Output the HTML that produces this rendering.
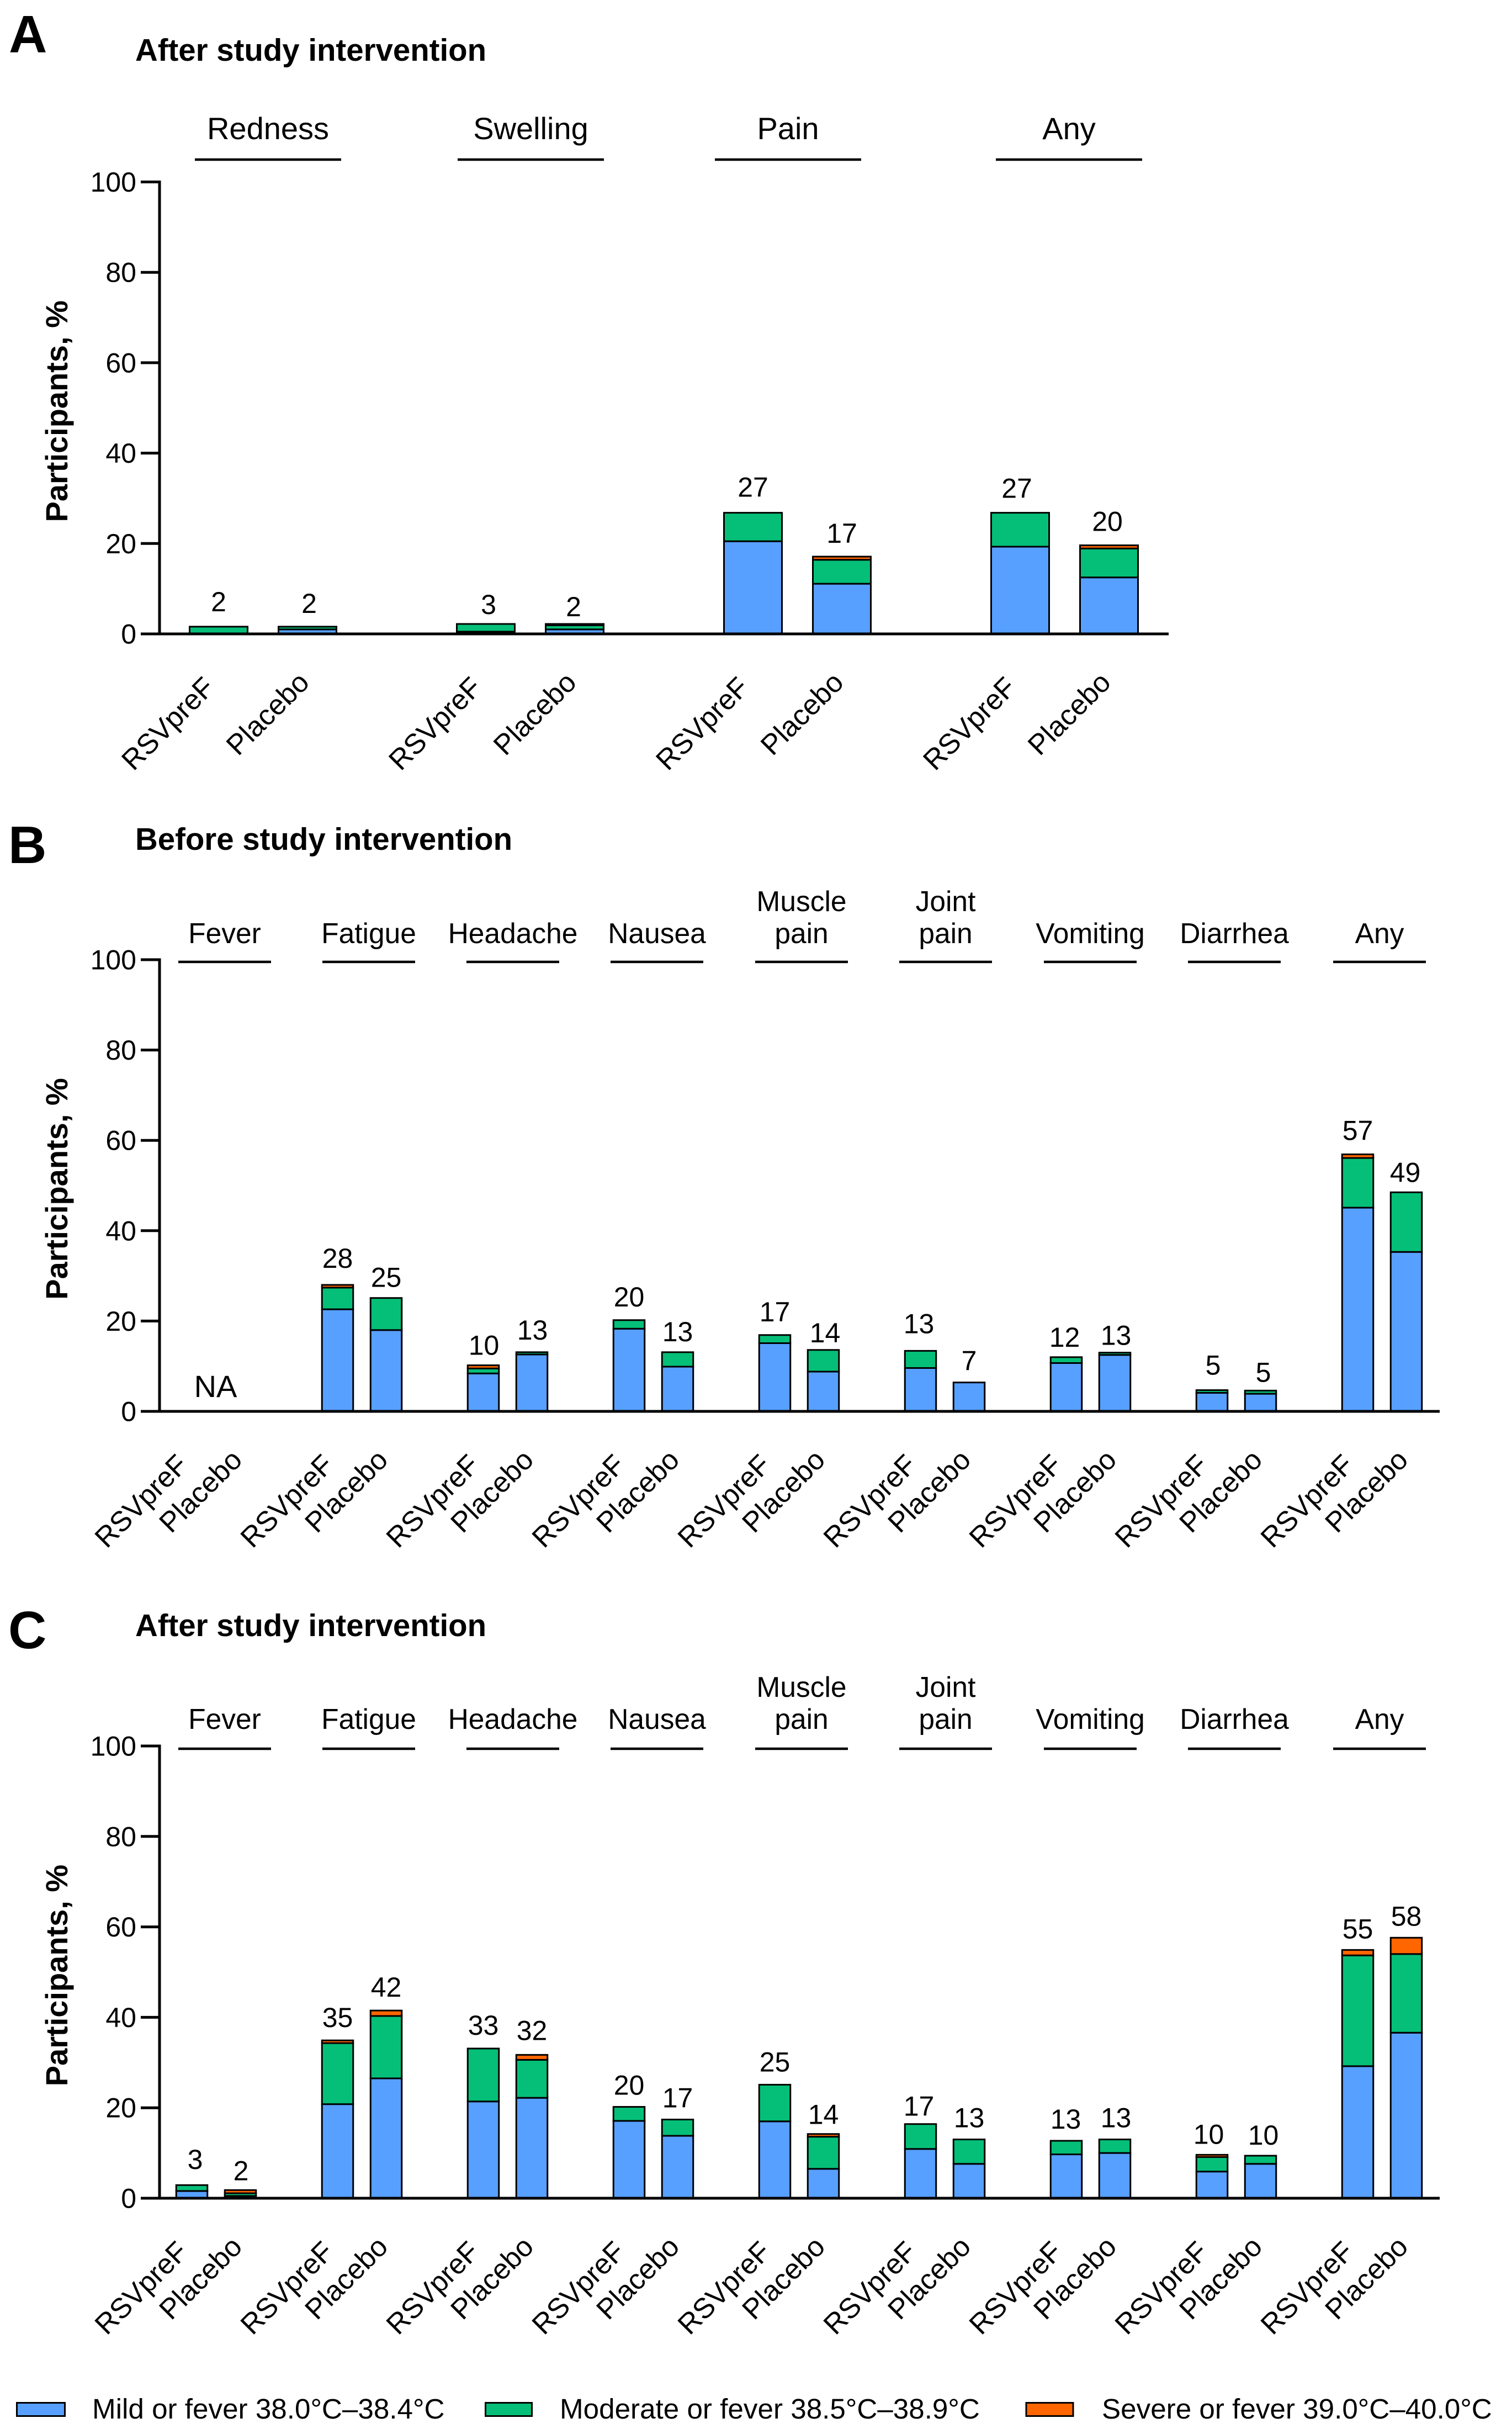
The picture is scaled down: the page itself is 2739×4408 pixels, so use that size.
<!DOCTYPE html>
<html lang="en">
<head>
<meta charset="utf-8">
<title>Reactogenicity after and before study intervention</title>
<style>
  html, body { margin: 0; padding: 0; background: #fff; }
  svg { display: block; }
  text { font-family: "Liberation Sans", Arial, sans-serif; fill: #000; }
</style>
</head>
<body>
<svg id="chart" xmlns="http://www.w3.org/2000/svg" width="2739" height="4408" viewBox="0 0 2739 4408">
  <rect x="0" y="0" width="2739" height="4408" fill="#fff"/>
  <g>
    <rect x="30.5" y="4351.5" width="87" height="24" fill="#57A0FF" stroke="#000" stroke-width="3"/>
    <text x="167" y="4380" font-size="51.2">Mild or fever 38.0°C–38.4°C</text>
    <rect x="879.5" y="4351.5" width="84" height="24" fill="#05BF78" stroke="#000" stroke-width="3"/>
    <text x="1014" y="4380" font-size="51.2">Moderate or fever 38.5°C–38.9°C</text>
    <rect x="1859" y="4351.5" width="85" height="24" fill="#FF6600" stroke="#000" stroke-width="3"/>
    <text x="1996" y="4380" font-size="51.2">Severe or fever 39.0°C–40.0°C</text>
  </g>
</svg>
<script>
// ---------- Shared tick labels ----------
const yTicks = [0, 20, 40, 60, 80, 100];
const armNames = ["RSVpreF", "Placebo"];

// ---------- Panel A data (RSVpreF, Placebo for each category) ----------
const categoriesA = [["Redness"], ["Swelling"], ["Pain"], ["Any"]];
const mildA = [0, 1.0, 0.5, 1.0, 20.5, 11.1, 19.3, 12.5];
const moderateA = [1.6, 0.6, 1.7, 0.9, 6.3, 5.3, 7.5, 6.4];
const severeA = [0, 0, 0, 0.3, 0, 0.7, 0, 0.7];
const printedA = ["2", "2", "3", "2", "27", "17", "27", "20"];

// ---------- Panel B data ----------
const categoriesB = [["Fever"], ["Fatigue"], ["Headache"], ["Nausea"], ["Muscle", "pain"], ["Joint", "pain"], ["Vomiting"], ["Diarrhea"], ["Any"]];
const mildB = [null, null, 22.6, 18.0, 8.4, 12.6, 18.3, 9.9, 15.1, 8.8, 9.6, 6.4, 10.7, 12.5, 4.1, 3.9, 45.1, 35.3];
const moderateB = [null, null, 4.8, 7.1, 1.1, 0.5, 1.9, 3.2, 1.8, 4.8, 3.8, 0, 1.3, 0.5, 0.6, 0.7, 11.0, 13.2];
const severeB = [null, null, 0.6, 0, 0.7, 0, 0, 0, 0, 0, 0, 0, 0, 0, 0, 0, 0.8, 0];
const printedB = ["", "", "28", "25", "10", "13", "20", "13", "17", "14", "13", "7", "12", "13", "5", "5", "57", "49"];

// ---------- Panel C data ----------
const categoriesC = [["Fever"], ["Fatigue"], ["Headache"], ["Nausea"], ["Muscle", "pain"], ["Joint", "pain"], ["Vomiting"], ["Diarrhea"], ["Any"]];
const mildC = [1.6, 0.5, 20.8, 26.5, 21.4, 22.2, 17.1, 13.8, 17.0, 6.5, 10.9, 7.6, 9.7, 10.0, 5.9, 7.6, 29.2, 36.6];
const moderateC = [1.3, 0.6, 13.5, 13.8, 11.7, 8.4, 3.1, 3.6, 8.1, 7.1, 5.5, 5.4, 3.0, 3.0, 3.2, 1.8, 24.5, 17.4];
const severeC = [0, 0.7, 0.6, 1.2, 0, 1.1, 0, 0, 0, 0.6, 0, 0, 0, 0, 0.5, 0, 1.2, 3.6];
const printedC = ["3", "2", "35", "42", "33", "32", "20", "17", "25", "14", "17", "13", "13", "13", "10", "10", "55", "58"];

// ---------- Layout only (hand-placed label nudges and header rules in the source figure, in px) ----------
const nudgeXA = [0, 3, 5, -2, 0, 0, -6, -3];
const gapA = [28, 25, 18, 14, 29, 25, 27, 26];
const nudgeXB = [0, 0, 0, 0, 1, 1, 0, 0, 0, 3, -3, 0, -3, 2, 2, 5, 0, -2];
const gapB = [0, 0, 31, 20, 19, 23, 25, 20, 25, 14, 32, 22, 19, 14, 28, 16, 26, 19];
const nudgeXC = [6, 1, 0, 0, 0, 0, 0, 0, 0, 0, -3, 0, -1, 2, -6, 5, 0, 0];
const gapC = [29, 18, 24, 25, 25, 27, 22, 22, 24, 18, 15, 22, 22, 22, 20, 20, 21, 22];
const ruleStartsA = [353, 829, 1295, 1804];
const ruleStartsBC = [323, 584, 845, 1106, 1368, 1629, 1891, 2152, 2415];

const NS = "http://www.w3.org/2000/svg";
const svg = document.getElementById("chart");
const BLUE = "#57A0FF", GREEN = "#05BF78", ORANGE = "#FF6600";

function make(parent, tag, attrs, text) {
  const el = document.createElementNS(NS, tag);
  for (const k in attrs) el.setAttribute(k, attrs[k]);
  if (text !== undefined) el.textContent = text;
  parent.appendChild(el);
  return el;
}

function drawPanel(cfg) {
  const panel = make(svg, "g", {});
  
  

  const yScale = v => cfg.y0 - v * (cfg.y0 - cfg.y100) / 100;

  const letter = make(panel, "text", { x: cfg.letterX, y: cfg.letterY, "font-size": 96, "font-weight": "bold" }, cfg.letter);
  
  

  const title = make(panel, "text", { x: 245, y: cfg.titleY, "font-size": 56.4, "font-weight": "bold" }, cfg.title);
  
  

  const yTitleCy = (cfg.y0 + cfg.y100) / 2 + 6;
  const yTitle = make(panel, "text", { x: 122, y: yTitleCy, "font-size": 56, "font-weight": "bold", "text-anchor": "middle", transform: "rotate(-90 122 " + yTitleCy + ")" }, "Participants, %");
  
  

  // Stacked bars
  cfg.mild.forEach((m, i) => {
    const cat = Math.floor(i / 2), arm = i % 2;
    const cx = cfg.barStart + cat * cfg.barStep + arm * cfg.barGap;
    if (m === null) return;
    const bars = make(panel, "g", {});
    
    
    const parts = [[m, BLUE, 'mild'], [cfg.moderate[i], GREEN, 'moderate'], [cfg.severe[i], ORANGE, 'severe']];
    let base = 0;
    parts.forEach(p => {
      if (!p[0]) return;
      const yTop = yScale(base + p[0]), yBot = yScale(base);
      const seg = make(bars, "rect", { x: cx - cfg.barW / 2 + 1.5, y: yTop, width: cfg.barW - 3, height: yBot - yTop, fill: p[1], stroke: "#000", "stroke-width": 3 });
      
      
      base += p[0];
    });
    const value = make(panel, "text", { x: cx + cfg.nudgeX[i], y: yScale(base) - cfg.gap[i], "font-size": 50, "text-anchor": "middle" }, cfg.printed[i]);
    
    
  });

  // Arm labels
  cfg.categories.forEach((c, ci) => {
    armNames.forEach((name, arm) => {
      const cx = cfg.barStart + ci * cfg.barStep + arm * cfg.barGap;
      const lx = cx + (arm === 0 ? -4.5 : 6);
      const ly = cfg.y0 + (arm === 0 ? 100 : 91);
      const lab = make(panel, "text", { x: lx, y: ly, "font-size": 51.5, "text-anchor": "end", transform: "rotate(-45 " + lx + " " + ly + ")" }, name);
      
      
    });
  });

  // Category headers
  cfg.categories.forEach((c, ci) => {
    const x1 = cfg.lineStarts[ci];
    const line = make(panel, "line", { x1: x1, x2: x1 + cfg.lineW, y1: cfg.lineY, y2: cfg.lineY, stroke: "#000", "stroke-width": 4.5 });
    
    
    c.forEach((word, wi) => {
      const t = make(panel, "text", { x: x1 + cfg.lineW / 2, y: cfg.lineY - cfg.headGap - (c.length - 1 - wi) * 58, "font-size": cfg.headFont, "text-anchor": "middle" }, word);
      
      
    });
  });

  // Axes
  const yAxis = make(panel, "line", { x1: 289, x2: 289, y1: yScale(100) - 2.5, y2: yScale(0), stroke: "#000", "stroke-width": 5 });
  
  
  const xAxis = make(panel, "line", { x1: 289, x2: cfg.axisEnd, y1: yScale(0), y2: yScale(0), stroke: "#000", "stroke-width": 5 });
  
  
  yTicks.forEach(t => {
    const tick = make(panel, "line", { x1: 255, x2: 289, y1: yScale(t), y2: yScale(t), stroke: "#000", "stroke-width": 5 });
    
    
    const lab = make(panel, "text", { x: 247, y: yScale(t) + 17.5, "font-size": 50, "text-anchor": "end" }, String(t));
    
    
  });

  if (cfg.naLabel) {
    const na = make(panel, "text", { x: cfg.barStart + cfg.barGap / 2 - 1, y: cfg.y0 - 26, "font-size": 56, "text-anchor": "middle" }, "NA");
    
    
  }
}

drawPanel({
  letter: "A", letterX: 16, letterY: 95, title: "After study intervention", titleY: 110,
  y0: 1148, y100: 329.5, axisEnd: 2117,
  categories: categoriesA, mild: mildA, moderate: moderateA, severe: severeA, printed: printedA,
  nudgeX: nudgeXA, gap: gapA,
  barStart: 396, barStep: 484, barGap: 161, barW: 108,
  lineStarts: ruleStartsA, lineW: 265, lineY: 289, headGap: 37, headFont: 56
});
drawPanel({
  letter: "B", letterX: 15, letterY: 1563, title: "Before study intervention", titleY: 1539,
  y0: 2556, y100: 1738, axisEnd: 2608,
  categories: categoriesB, mild: mildB, moderate: moderateB, severe: severeB, printed: printedB,
  nudgeX: nudgeXB, gap: gapB, naLabel: true,
  barStart: 347.5, barStep: 264, barGap: 88, barW: 59.5,
  lineStarts: ruleStartsBC, lineW: 168, lineY: 1742, headGap: 34, headFont: 51.5
});
drawPanel({
  letter: "C", letterX: 15, letterY: 2985, title: "After study intervention", titleY: 2963,
  y0: 3981, y100: 3162, axisEnd: 2608,
  categories: categoriesC, mild: mildC, moderate: moderateC, severe: severeC, printed: printedC,
  nudgeX: nudgeXC, gap: gapC,
  barStart: 347.5, barStep: 264, barGap: 88, barW: 59.5,
  lineStarts: ruleStartsBC, lineW: 168, lineY: 3167, headGap: 36, headFont: 51.5
});
</script>
</body>
</html>
